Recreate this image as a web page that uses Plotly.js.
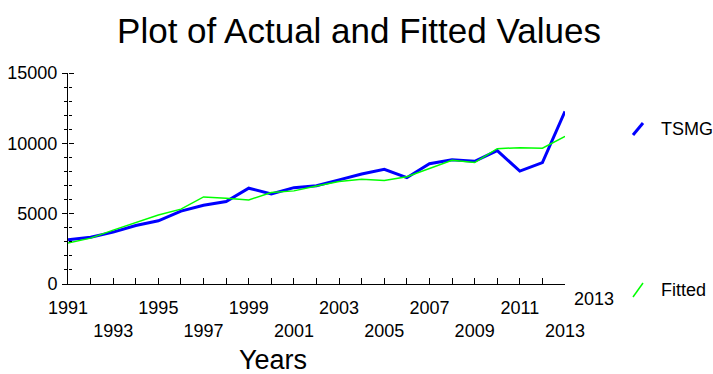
<!DOCTYPE html>
<html>
<head>
<meta charset="utf-8">
<script src="https://cdn.plot.ly/plotly-3.0.1.min.js"></script>
<style>html,body{margin:0;padding:0;background:#fff;}#chart{width:713px;height:374px;}</style>
</head>
<body>
<div id="chart"></div>
<script>
const years = [1991,1992,1993,1994,1995,1996,1997,1998,1999,2000,2001,2002,2003,2004,2005,2006,2007,2008,2009,2010,2011,2012,2013];
const tsmg = [3140,3330,3690,4160,4490,5180,5600,5860,6810,6400,6850,6990,7400,7820,8150,7560,8550,8840,8720,9480,8030,8630,12270];
const fitted = [2910,3260,3830,4350,4910,5320,6190,6100,5980,6500,6620,6970,7280,7440,7350,7630,8230,8790,8630,9620,9690,9650,10500];
const tickLabels = ['1991','','\u00a0<br>1993','','1995','','\u00a0<br>1997','','1999','','\u00a0<br>2001','','2003','','\u00a0<br>2005','','2007','','\u00a0<br>2009','','2011','','\u00a0<br>2013'];
const seriesNames = ['TSMG','Fitted'];
const colors = ['#0000ff','#00ff00'];

const FONT = "'Liberation Sans', Arial, sans-serif";
const W = 713, H = 374;
const L = 68, R = 565, T = 73, B = 284;
const px = v => (v - L) / (R - L);
const py = v => (B - v) / (B - T);

const traces = [
  {x: years, y: tsmg, name: seriesNames[0], type: 'scatter', mode: 'lines',
   line: {color: colors[0], width: 3}, showlegend: false},
  {x: years, y: fitted, name: seriesNames[1], type: 'scatter', mode: 'lines',
   line: {color: colors[1], width: 1.5}, showlegend: false},
  {x: years, y: fitted, yaxis: 'y2', type: 'scatter', mode: 'lines',
   line: {width: 0}, hoverinfo: 'skip', showlegend: false, opacity: 0}
];

const layout = {
  width: W, height: H,
  margin: {l: L, r: W - R, t: T, b: H - B, pad: 0},
  paper_bgcolor: '#fff', plot_bgcolor: '#fff',
  font: {family: FONT, size: 18, color: '#000'},
  showlegend: false,
  title: {text: 'Plot of Actual and Fitted Values', font: {family: FONT, size: 35, color: '#000'},
          x: 359 / W, xanchor: 'center', y: 1 - 31 / H, yanchor: 'middle', xref: 'container', yref: 'container'},
  xaxis: {
    range: [1991, 2013], showgrid: false, zeroline: false,
    showline: true, linecolor: '#000', linewidth: 1,
    ticks: 'inside', ticklen: 6, tickcolor: '#000', tickwidth: 1,
    tickmode: 'array', tickvals: years, ticktext: tickLabels,
    tickangle: 0, ticklabelstandoff: 7,
    tickfont: {family: FONT, size: 18, color: '#000'}
  },
  yaxis: {
    range: [0, 15000], showgrid: false, zeroline: false,
    showline: true, linecolor: '#000', linewidth: 1,
    ticks: 'outside', ticklen: 5, tickcolor: '#000', tickwidth: 1,
    tickmode: 'linear', tick0: 0, dtick: 5000, tickformat: 'd', exponentformat: 'none',
    minor: {ticks: 'outside', ticklen: 3, dtick: 1000, tickcolor: '#000', showgrid: false},
    ticklabelstandoff: 1,
    tickfont: {family: FONT, size: 18, color: '#000'}
  },
  yaxis2: {
    overlaying: 'y', side: 'right', anchor: 'free', position: 0, range: [0, 15000], showgrid: false, zeroline: false,
    showline: false, showticklabels: false,
    ticks: 'outside', ticklen: 5, tickcolor: '#000', tickwidth: 1,
    tickmode: 'linear', tick0: 0, dtick: 5000,
    minor: {ticks: 'outside', ticklen: 3, dtick: 1000, tickcolor: '#000', showgrid: false}
  },
  annotations: [
    {text: 'Years', xref: 'paper', yref: 'paper', x: px(273), y: py(360), xanchor: 'center', yanchor: 'middle',
     showarrow: false, font: {family: FONT, size: 27, color: '#000'}},
    {text: '2013', xref: 'x', yref: 'paper', x: 2013, xshift: 29, y: py(299), xanchor: 'center', yanchor: 'middle',
     showarrow: false, font: {family: FONT, size: 18, color: '#000'}},
    {text: seriesNames[0], xref: 'paper', yref: 'paper', x: px(659), y: py(129), xanchor: 'left', yanchor: 'middle',
     showarrow: false, font: {family: FONT, size: 18, color: '#000'}},
    {text: seriesNames[1], xref: 'paper', yref: 'paper', x: px(659), y: py(290), xanchor: 'left', yanchor: 'middle',
     showarrow: false, font: {family: FONT, size: 18, color: '#000'}}
  ],
  shapes: [
    {type: 'line', xref: 'paper', yref: 'paper', x0: px(633), y0: py(135), x1: px(643), y1: py(123),
     line: {color: colors[0], width: 3}},
    {type: 'line', xref: 'paper', yref: 'paper', x0: px(633), y0: py(297), x1: px(643), y1: py(283),
     line: {color: colors[1], width: 1.5}}
  ]
};

Plotly.newPlot('chart', traces, layout, {displayModeBar: false, staticPlot: true});
</script>
</body>
</html>
